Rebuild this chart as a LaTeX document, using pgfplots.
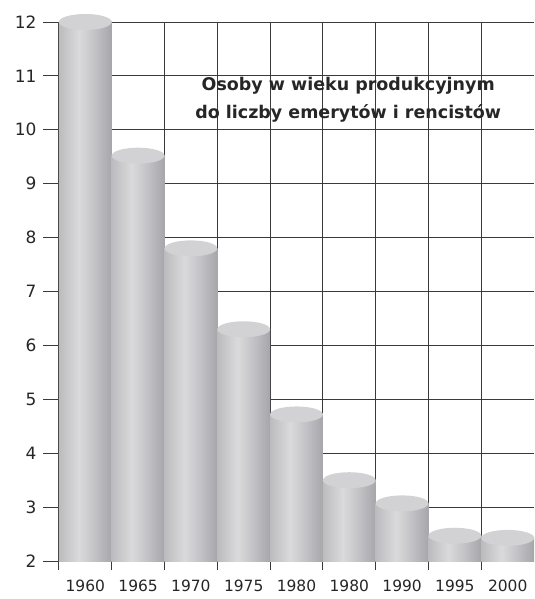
\documentclass[border=0pt]{standalone}
\usepackage{pgfplots}
\pgfplotsset{compat=1.18}
\usepackage{fontspec}
\setmainfont{DejaVu Sans}
\definecolor{cA}{HTML}{9E9EA2}
\definecolor{cB}{HTML}{B4B4B8}
\definecolor{cC}{HTML}{DADADC}
\definecolor{cD}{HTML}{C4C4C8}
\definecolor{cE}{HTML}{909094}
\definecolor{cF}{HTML}{A0A0A4}
\definecolor{topgray}{HTML}{D2D2D4}
\definecolor{gridc}{HTML}{3A3A3A}
\pgfdeclarehorizontalshading{cyl}{100bp}{color(0bp)=(cA); color(20bp)=(cB); color(44bp)=(cC); color(58bp)=(cD); color(88bp)=(cE); color(100bp)=(cF)}
\pgfdeclareplotmark{cyltop}{\pgfpathellipse{\pgfpointorigin}{\pgfqpoint{26.45pt}{0pt}}{\pgfqpoint{0pt}{8pt}}\pgfusepathqfill}
\pgfplotsset{cylbar/.style={ybar, bar width=1, draw=none, shading=cyl}}
\begin{document}
\begin{tikzpicture}
\begin{axis}[
  width=476pt, height=540pt, scale only axis,
  xmin=-0.5, xmax=8.5, ymin=2, ymax=12,
  axis x line*=bottom, axis y line*=left,
  axis line style={draw=none},
  xtick={0,...,8},
  xticklabels={1960,1965,1970,1975,1980,1980,1990,1995,2000},
  minor xtick={-0.5,0.5,...,7.5},
  xminorgrids=true,
  ytick={2,...,12}, ymajorgrids=true,
  tick align=outside,
  major tick length=16pt, minor tick length=9pt,
  major x tick style={draw=none},
  minor x tick style={gridc, line width=0.9pt},
  y tick style={gridc, line width=0.9pt},
  major grid style={gridc, line width=0.9pt},
  minor grid style={gridc, line width=0.9pt},
  /pgf/number format/assume math mode=true,
  yticklabel style={font=\fontsize{17}{20}\selectfont, text=black!85, xshift=-3pt},
  xticklabel style={font=\fontsize{15.5}{18}\selectfont, text=black!85, yshift=1pt},
]
\addplot[cylbar] coordinates {(0,12)};
\addplot[cylbar] coordinates {(1,9.52)};
\addplot[cylbar] coordinates {(2,7.8)};
\addplot[cylbar] coordinates {(3,6.3)};
\addplot[cylbar] coordinates {(4,4.72)};
\addplot[cylbar] coordinates {(5,3.5)};
\addplot[cylbar] coordinates {(6,3.07)};
\addplot[cylbar] coordinates {(7,2.47)};
\addplot[cylbar] coordinates {(8,2.43)};
\end{axis}
\begin{axis}[
  width=476pt, height=540pt, scale only axis,
  xmin=-0.5, xmax=8.5, ymin=2, ymax=12,
  hide axis, clip=false,
]
\addplot[only marks, mark=cyltop, color=topgray] coordinates {
(0,12) (1,9.52) (2,7.8) (3,6.3) (4,4.72) (5,3.5) (6,3.07) (7,2.47) (8,2.43)};
\node[font=\bfseries\fontsize{17.5}{28}\selectfont, align=center, text=black!85] at (axis cs:4.98,10.56) {Osoby w wieku produkcyjnym\\do liczby emerytów i rencistów};
\coordinate (bl) at (rel axis cs:0,0);
\coordinate (tr) at (rel axis cs:1,1);
\end{axis}
\pgfresetboundingbox
\path[use as bounding box] ([xshift=-59pt,yshift=-38pt]bl) rectangle ([yshift=22pt]tr);
\end{tikzpicture}
\end{document}
